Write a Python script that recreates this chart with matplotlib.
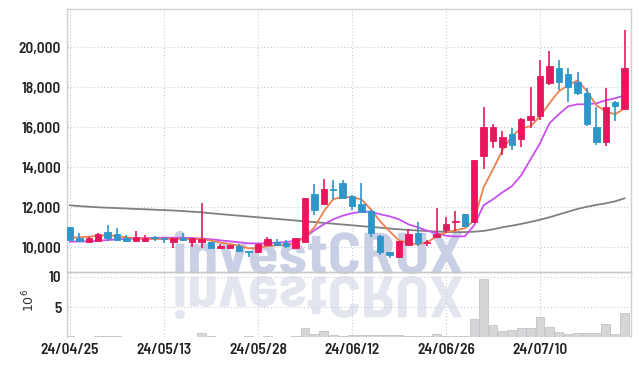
import matplotlib.pyplot as plt
from matplotlib.textpath import TextPath
from matplotlib.patches import PathPatch, Rectangle
from matplotlib.font_manager import FontProperties
from matplotlib.transforms import Affine2D

dates = ['24/04/25', '24/04/26', '24/04/29', '24/04/30', '24/05/02', '24/05/03', '24/05/07', '24/05/08', '24/05/09', '24/05/10',
         '24/05/13', '24/05/14', '24/05/16', '24/05/17', '24/05/20', '24/05/21', '24/05/22', '24/05/23', '24/05/24', '24/05/27',
         '24/05/28', '24/05/29', '24/05/30', '24/05/31', '24/06/03', '24/06/04', '24/06/05', '24/06/07', '24/06/10', '24/06/11',
         '24/06/12', '24/06/13', '24/06/14', '24/06/17', '24/06/18', '24/06/19', '24/06/20', '24/06/21', '24/06/24', '24/06/25',
         '24/06/26', '24/06/27', '24/06/28', '24/07/01', '24/07/02', '24/07/03', '24/07/04', '24/07/05', '24/07/08', '24/07/09',
         '24/07/10', '24/07/11', '24/07/12', '24/07/15', '24/07/16', '24/07/17', '24/07/18', '24/07/19', '24/07/22', '24/07/23']

opens = [11000, 10480, 10280, 10300, 10750, 10650, 10450, 10300, 10300, 10520,
         10450, 10280, 10450, 10280, 10280, 10280, 9980, 9990, 10080, 9820,
         9780, 10120, 10280, 10200, 9950, 10280, 12650, 12150, 12900, 13200,
         12580, 12150, 11800, 10560, 9750, 9500, 10120, 10700, 10230, 10530,
         10870, 11250, 11650, 11250, 14580, 15330, 15000, 15650, 15430, 16370,
         16580, 18230, 18950, 18650, 18280, 17730, 16030, 15280, 17280, 16900]
highs = [11000, 10700, 10500, 10700, 11100, 10950, 10600, 10800, 10600, 10550,
         10480, 10480, 10700, 10470, 12200, 10280, 10150, 10120, 10150, 9830,
         10200, 10530, 10420, 10350, 10480, 12480, 13150, 13400, 13350, 13350,
         12620, 13200, 11850, 10600, 9780, 10330, 10900, 11280, 10380, 11980,
         11500, 11800, 11670, 14380, 17000, 16150, 15800, 15980, 16480, 18000,
         19370, 19800, 19370, 18950, 18750, 17950, 17030, 17950, 17320, 20870]
lows = [10380, 10250, 10250, 10280, 10300, 10300, 10280, 10280, 10270, 10300,
        10200, 9950, 10330, 10030, 9980, 9950, 9980, 9900, 9800, 9520,
        9750, 10100, 10080, 9980, 9930, 10250, 11600, 12100, 12400, 12450,
        11850, 11700, 10530, 9600, 9450, 9450, 10100, 10050, 10050, 10480,
        10700, 10800, 11000, 11200, 13900, 14950, 14600, 14870, 15000, 15950,
        16370, 18100, 17870, 17280, 17600, 16080, 15100, 15080, 16300, 16850]
closes = [10380, 10300, 10460, 10650, 10450, 10350, 10300, 10500, 10450, 10450,
          10400, 10450, 10350, 10450, 10430, 9950, 10050, 10100, 9820, 9780,
          10150, 10420, 10120, 10050, 10450, 12480, 11850, 12900, 12850, 12450,
          12080, 11780, 10700, 9750, 9600, 10300, 10650, 10200, 10280, 10680,
          11170, 11300, 11050, 14350, 16000, 16000, 15500, 15120, 16400, 16560,
          18560, 19050, 18250, 18030, 17730, 16170, 15250, 17030, 17080, 18980]

ma_short = [10480, 10500, 10530, 10580, 10600, 10560, 10500, 10440, 10420, 10410,
            10420, 10430, 10420, 10410, 10420, 10330, 10240, 10170, 10070, 9950,
            9970, 10060, 10100, 10110, 10220, 10500, 11000, 11800, 12400, 12530,
            12500, 12400, 11900, 11300, 10800, 10350, 10200, 10150, 10250, 10550,
            10750, 10850, 10950, 11350, 13000, 13900, 14850, 15550, 15950, 16050,
            16550, 17200, 17800, 18100, 18350, 17800, 17100, 16800, 16650, 16950]
ma_mid = [10280, 10290, 10300, 10330, 10360, 10400, 10420, 10440, 10460, 10470,
          10480, 10480, 10470, 10460, 10440, 10400, 10350, 10300, 10250, 10200,
          10190, 10210, 10230, 10260, 10330, 10500, 10850, 11150, 11400, 11580,
          11700, 11780, 11780, 11650, 11550, 11400, 11150, 11000, 10830, 10700,
          10580, 10540, 10550, 11100, 12100, 12400, 12750, 13050, 13600, 14400,
          15200, 16200, 16650, 17050, 17150, 17150, 17200, 17350, 17450, 17600]
ma_long = [12100, 12060, 12030, 12000, 11980, 11960, 11940, 11920, 11900, 11880,
           11860, 11840, 11810, 11780, 11750, 11700, 11660, 11620, 11580, 11540,
           11500, 11460, 11420, 11380, 11340, 11300, 11260, 11220, 11180, 11140,
           11100, 11060, 11020, 10980, 10940, 10900, 10870, 10840, 10810, 10790,
           10770, 10760, 10760, 10780, 10820, 10900, 11000, 11080, 11170, 11270,
           11380, 11500, 11640, 11780, 11920, 12030, 12120, 12200, 12300, 12450]

volume = [0.15, 0.1, 0.1, 0.15, 0.2, 0.15, 0.1, 0.1, 0.1, 0.1,
          0.1, 0.1, 0.1, 0.1, 0.66, 0.15, 0.1, 0.1, 0.1, 0.15,
          0.1, 0.15, 0.1, 0.1, 0.2, 1.5, 0.55, 1.05, 0.35, 0.25,
          0.35, 0.35, 0.45, 0.3, 0.3, 0.3, 0.2, 0.2, 0.2, 0.5,
          0.2, 0.2, 0.15, 2.97, 9.7, 2.0, 1.05, 1.2, 1.5, 1.5,
          3.3, 1.65, 0.8, 0.55, 0.66, 0.66, 0.75, 2.15, 0.5, 3.96]

UP = '#e8175d'
DOWN = '#2e96c8'
GRID = '#c9cbda'
SPINE = '#d0d0d4'
tick_font = FontProperties(family='Barlow Semi Condensed', weight='semibold', size=11)

W, H = 639, 366
fig = plt.figure(figsize=(W / 100, H / 100), dpi=100)
left, right = 66.7 / W, 630.7 / W
ax = fig.add_axes([left, 1 - 272 / H, right - left, (272 - 9.3) / H])
axv = fig.add_axes([left, 1 - 337.3 / H, right - left, (337.3 - 272) / H], sharex=ax)
ax.set_facecolor('none')
axv.set_facecolor('none')

# watermark + its reflection, under everything else
fp = FontProperties(family='Barlow Semi Condensed', weight='bold')
tp = TextPath((0, 0), 'investCRUX', size=100, prop=fp)
bb = tp.get_extents()
x0, x1 = 175, 462
sx = (x1 - x0) / bb.width
sy = 43 / bb.height
main_tr = Affine2D().translate(-bb.x0, -bb.y0).scale(sx, sy).translate(x0, H - 274)
refl_tr = Affine2D().translate(-bb.x0, -bb.y0).scale(sx, -sy).translate(x0, H - 276)
fig.patches.append(PathPatch(main_tr.transform_path(tp), transform=None, facecolor='#c9cfe4',
                             edgecolor='none', zorder=-5, figure=fig))
fig.patches.append(PathPatch(refl_tr.transform_path(tp), transform=None, facecolor='#e3e5ef',
                             edgecolor='none', zorder=-5, figure=fig))

x = list(range(len(closes)))

# moving averages
ax.plot(x, ma_long, color='#808080', lw=1.3, zorder=2)
ax.plot(x, ma_mid, color='#c84ff0', lw=1.3, zorder=2)
ax.plot(x, ma_short, color='#ee8050', lw=1.3, zorder=2)

# candles
bw = 0.7
for i in x:
    o, h, l, c = opens[i], highs[i], lows[i], closes[i]
    col = UP if c >= o else DOWN
    ax.vlines(i, l, h, color=col, lw=1.2, zorder=3)
    bottom = min(o, c)
    height = max(abs(c - o), 40)
    ax.add_patch(Rectangle((i - bw / 2, bottom), bw, height, facecolor=col,
                           edgecolor=col, lw=0.6, zorder=4))

ax.set_ylim(8765, 21900)
ax.set_xlim(-0.35, 59.65)
ax.set_yticks([10000, 12000, 14000, 16000, 18000, 20000])
ax.set_yticklabels([f'{v:,}' for v in [10000, 12000, 14000, 16000, 18000, 20000]])

axv.bar(x, volume, width=0.95, color='#d6d6d8', edgecolor='#c4c4c8', lw=0.6, zorder=2)
axv.set_ylim(0, 10.8)
axv.set_yticks([5, 10])
axv.set_ylabel(r'$10^6$', fontsize=9, color='#333333')
axv.yaxis.set_label_coords(-0.053, 0.57)

tick_idx = [0, 10, 20, 30, 40, 50]
axv.set_xticks(tick_idx)
axv.set_xticklabels([dates[i] for i in tick_idx])

for a in (ax, axv):
    a.grid(True, color=GRID, linestyle=(0, (1, 2)), linewidth=0.8)
    a.set_axisbelow(True)
    a.tick_params(length=0, colors='#222222')
    a.tick_params(axis='y', pad=4)
    a.tick_params(axis='x', pad=4)
    for lab in a.get_yticklabels() + a.get_xticklabels():
        lab.set_fontproperties(tick_font)
    for s in a.spines.values():
        s.set_color(SPINE)
        s.set_linewidth(1.0)
ax.tick_params(axis='x', labelbottom=False)
axv.spines['bottom'].set_visible(False)
axv.spines['top'].set_color('#c8c8c8')

fig.savefig('out.png', dpi=100)
